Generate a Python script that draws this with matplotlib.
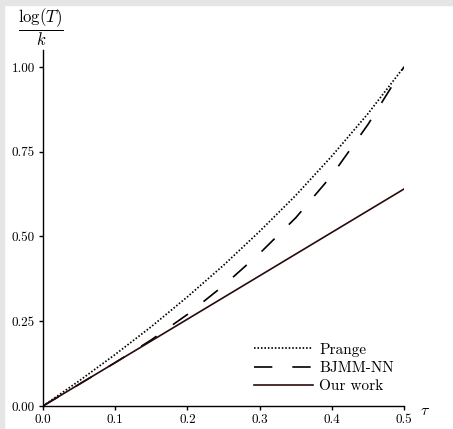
import matplotlib
matplotlib.use("Agg")
from matplotlib import pyplot as plt
from matplotlib.patches import Rectangle

plt.rcParams["font.family"] = "cmr10"
plt.rcParams["mathtext.fontset"] = "cm"
plt.rcParams["axes.unicode_minus"] = False

# values
tau = [0.0, 0.05, 0.1, 0.15, 0.2, 0.25, 0.3, 0.35, 0.4, 0.45, 0.5]
prange = [0.0, 0.074, 0.152, 0.234, 0.322, 0.415, 0.515, 0.621, 0.737, 0.862, 1.0]
bjmm_nn = [0.0, 0.064, 0.128, 0.195, 0.27, 0.355, 0.45, 0.555, 0.68, 0.83, 1.0]
our_work = [0.0, 0.064, 0.128, 0.192, 0.256, 0.32, 0.384, 0.448, 0.512, 0.576, 0.64]

x_ticks = [0.0, 0.1, 0.2, 0.3, 0.4, 0.5]
x_tick_labels = ["0.0", "0.1", "0.2", "0.3", "0.4", "0.5"]
y_ticks = [0.0, 0.25, 0.5, 0.75, 1.0]
y_tick_labels = ["0.00", "0.25", "0.50", "0.75", "1.00"]

fig = plt.figure(figsize=(4.53, 4.29), dpi=100)
fig.patches.append(Rectangle((0, 0), 4 / 453, 1, transform=fig.transFigure,
                             color="#e5e5e5", zorder=-10))
fig.patches.append(Rectangle((0, 1 - 5 / 429), 1, 5 / 429, transform=fig.transFigure,
                             color="#e5e5e5", zorder=-10))

ax = fig.add_axes([43 / 453, 1 - 406 / 429, (404 - 43) / 453, (406 - 50) / 429])
ax.set_xlim(0, 0.5)
ax.set_ylim(0, 1.05)

ax.plot(tau, prange, color="black", lw=1.25, linestyle=(0, (0.9, 1.1)), label="Prange")
ax.plot(tau, bjmm_nn, color="black", lw=1.2, linestyle=(0, (11, 12)), label="BJMM-NN")
ax.plot(tau, our_work, color="#2a0a0a", lw=1.2, label="Our work")

for s in ["top", "right"]:
    ax.spines[s].set_visible(False)
for s in ["left", "bottom"]:
    ax.spines[s].set_linewidth(1.0)

ax.set_xticks(x_ticks, labels=x_tick_labels)
ax.set_yticks(y_ticks, labels=y_tick_labels)
ax.tick_params(direction="out", length=3, width=1.0, labelsize=9.5, pad=3)

fig.text(41 / 453, 1 - 27 / 429, r"$\dfrac{\log(T)}{k}$", fontsize=12,
         ha="center", va="center")
fig.text(425 / 453, 1 - 411 / 429, r"$\tau$", fontsize=11.5, ha="center", va="center")

ax.legend(loc="lower right", bbox_to_anchor=(0.972, 0.036), frameon=False,
          fontsize=11, handlelength=3.9, handletextpad=0.4, labelspacing=0.3,
          borderpad=0, borderaxespad=0)

fig.savefig("out.png", dpi=100)
